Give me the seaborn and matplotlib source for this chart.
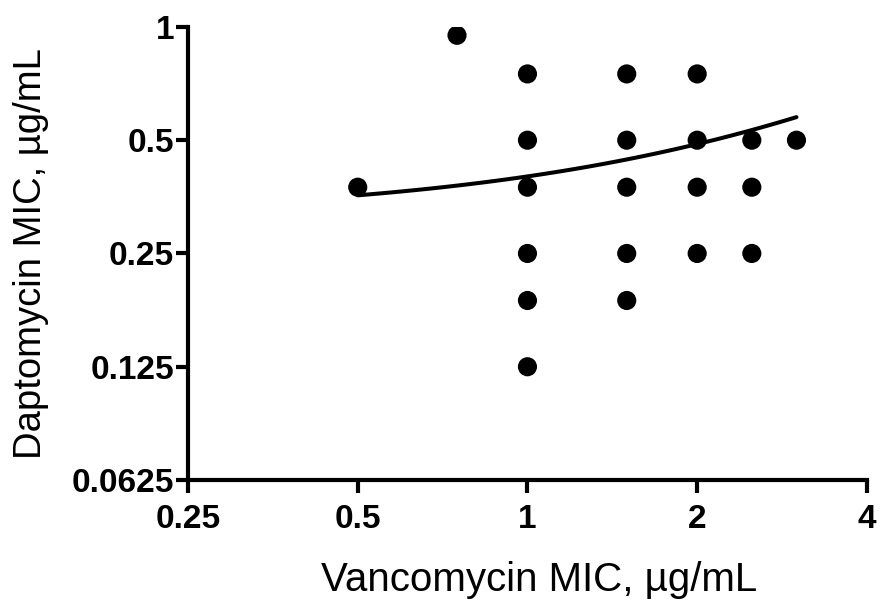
import numpy as np
import pandas as pd
import matplotlib
matplotlib.use("Agg")
import matplotlib.pyplot as plt
import seaborn as sns
from matplotlib.ticker import FixedLocator, FixedFormatter, NullLocator

# MIC pairs
vanco_mic = [0.5, 0.75, 1, 1, 1, 1, 1, 1, 1.5, 1.5, 1.5, 1.5, 1.5,
             2, 2, 2, 2, 2.5, 2.5, 2.5, 3]
dapto_mic = [0.375, 0.95, 0.75, 0.5, 0.375, 0.25, 0.1875, 0.125,
             0.75, 0.5, 0.375, 0.25, 0.1875,
             0.75, 0.5, 0.375, 0.25, 0.5, 0.375, 0.25, 0.5]

# linear fit (on linear scale) as drawn
fit_intercept = 0.313
fit_slope = 0.0876
fit_x_range = [0.5, 3.0]

x_ticks = [0.25, 0.5, 1, 2, 4]
x_tick_labels = ["0.25", "0.5", "1", "2", "4"]
y_ticks = [0.0625, 0.125, 0.25, 0.5, 1]
y_tick_labels = ["0.0625", "0.125", "0.25", "0.5", "1"]

df = pd.DataFrame({"vanco": vanco_mic, "dapto": dapto_mic})
fx = np.linspace(fit_x_range[0], fit_x_range[1], 100)
fit_df = pd.DataFrame({"x": fx, "y": fit_intercept + fit_slope * fx})

sns.set_style("ticks")
plt.rcParams['font.family'] = ['Liberation Sans', 'DejaVu Sans']
plt.rcParams['text.color'] = 'black'
plt.rcParams['axes.labelcolor'] = 'black'
plt.rcParams['xtick.color'] = 'black'
plt.rcParams['ytick.color'] = 'black'
plt.rcParams['axes.edgecolor'] = 'black'

fig = plt.figure(figsize=(8.81, 6.09), dpi=100)
ax = fig.add_axes([0.2134, 0.2118, 0.7706, 0.744])

sns.scatterplot(data=df, x="vanco", y="dapto", ax=ax, color="black",
                s=190, edgecolor="none", zorder=3)
sns.lineplot(data=fit_df, x="x", y="y", ax=ax, color="black", lw=2.9, zorder=4)

ax.set_xscale("log", base=2)
ax.set_yscale("log", base=2)
ax.set_xlim(0.25, 4)
ax.set_ylim(0.0625, 1)

ax.xaxis.set_major_locator(FixedLocator(x_ticks))
ax.xaxis.set_major_formatter(FixedFormatter(x_tick_labels))
ax.xaxis.set_minor_locator(NullLocator())
ax.yaxis.set_major_locator(FixedLocator(y_ticks))
ax.yaxis.set_major_formatter(FixedFormatter(y_tick_labels))
ax.yaxis.set_minor_locator(NullLocator())

for lab in ax.get_xticklabels() + ax.get_yticklabels():
    lab.set_fontweight("bold")
    lab.set_fontsize(24)

ax.tick_params(axis="both", direction="out", length=9, width=3,
               colors="black")
ax.tick_params(axis="x", pad=8)
ax.tick_params(axis="y", pad=1)

for side in ["top", "right"]:
    ax.spines[side].set_visible(False)
for side in ["left", "bottom"]:
    ax.spines[side].set_linewidth(3)
    ax.spines[side].set_color("black")
ax.spines["left"].set_bounds(0.0625, 1)

ax.set_xlabel("Vancomycin MIC, µg/mL", fontsize=29)
ax.set_ylabel("Daptomycin MIC, µg/mL", fontsize=27.5)
ax.xaxis.set_label_coords(0.517, -0.178)
ax.yaxis.set_label_coords(-0.205, 0.5)

fig.savefig("out.png", dpi=100)
